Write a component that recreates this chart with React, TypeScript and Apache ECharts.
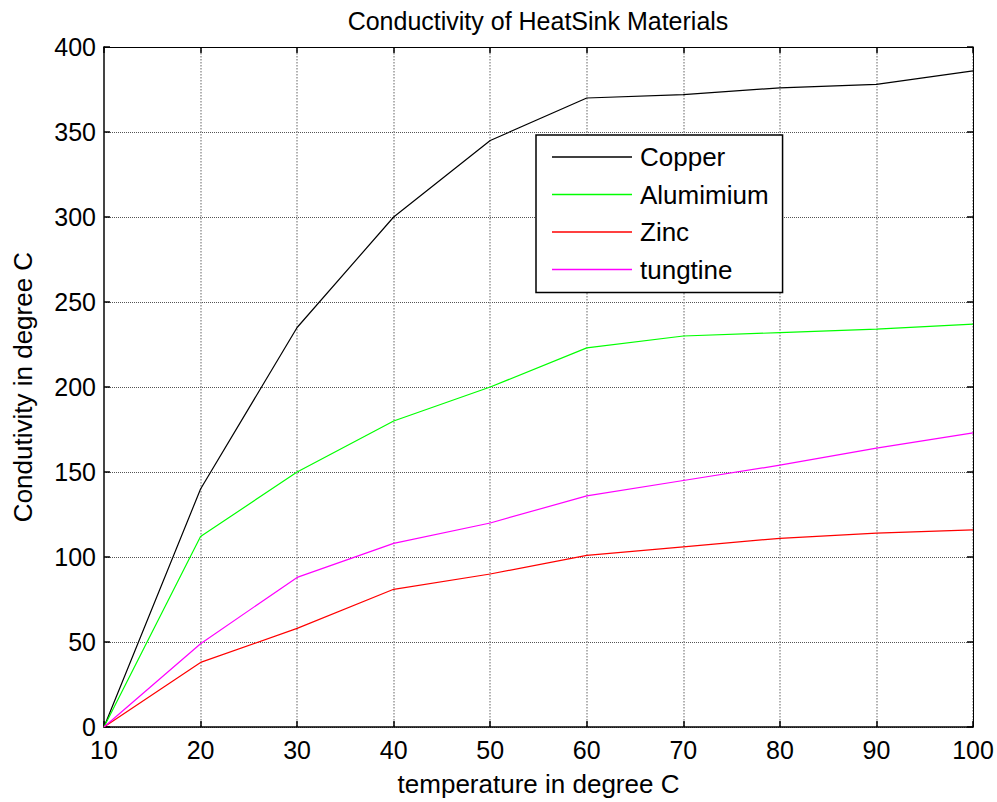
import React, { useEffect, useRef } from "react";
import * as echarts from "echarts";

const temperatures = [10, 20, 30, 40, 50, 60, 70, 80, 90, 100];
const copper = [0, 140, 235, 300, 345, 370, 372, 376, 378, 386];
const aluminium = [0, 112, 150, 180, 200, 223, 230, 232, 234, 237];
const zinc = [0, 38, 58, 81, 90, 101, 106, 111, 114, 116];
const tungtine = [0, 49, 88, 108, 120, 136, 145, 154, 164, 173];
const seriesNames = ["Copper", "Alumimium", "Zinc", "tungtine"];
const seriesColors = ["#000000", "#00ff00", "#ff0000", "#ff00ff"];
const seriesValues = [copper, aluminium, zinc, tungtine];

const FONT = "'Liberation Sans', Arial, sans-serif";

export default function App() {
  const ref = useRef<HTMLDivElement>(null);
  useEffect(() => {
    if (!ref.current) return;
    const chart = echarts.init(ref.current, null, { renderer: "svg" });
    const tickCommon = {
      show: true,
      inside: true,
      length: 6,
      lineStyle: { color: "#000", width: 1.5 },
    };
    chart.setOption({
      animation: false,
      backgroundColor: "#fff",
      textStyle: { fontFamily: FONT },
      title: {
        text: "Conductivity of HeatSink Materials",
        left: 533,
        textAlign: "center",
        top: 3,
        textStyle: { fontFamily: FONT, fontSize: 25, fontWeight: "normal", color: "#000" },
      },
      legend: {
        orient: "vertical",
        left: 536,
        top: 135,
        padding: [9, 14, 10, 16],
        icon: "rect",
        itemWidth: 80,
        itemHeight: 1.5,
        itemGap: 11.5,
        backgroundColor: "#fff",
        borderColor: "#000",
        borderWidth: 1.5,
        borderRadius: 0,
        textStyle: { fontFamily: FONT, fontSize: 26, lineHeight: 26, color: "#000", padding: [0, 0, 0, 3] },
        data: seriesNames,
      },
      grid: { left: 104, right: 24, top: 47, bottom: 71, show: false },
      xAxis: [
        {
          type: "value",
          min: 10,
          max: 100,
          interval: 10,
          name: "temperature in degree C",
          nameLocation: "middle",
          nameGap: 44,
          nameTextStyle: { fontFamily: FONT, fontSize: 26, color: "#000" },
          axisLine: { show: true, onZero: false, lineStyle: { color: "#000", width: 1.5 } },
          axisTick: tickCommon,
          axisLabel: { fontFamily: FONT, fontSize: 25, color: "#000", margin: 10 },
          splitLine: { show: true, lineStyle: { color: "#999", width: 1.5, type: "dotted" } },
        },
        {
          type: "value",
          position: "top",
          min: 10,
          max: 100,
          interval: 10,
          axisLine: { show: true, onZero: false, lineStyle: { color: "#000", width: 1 } },
          axisTick: tickCommon,
          axisLabel: { show: false },
          splitLine: { show: false },
        },
      ],
      yAxis: [
        {
          type: "value",
          min: 0,
          max: 400,
          interval: 50,
          name: "Condutivity in degree C",
          nameLocation: "middle",
          nameGap: 68,
          nameTextStyle: { fontFamily: FONT, fontSize: 26, color: "#000" },
          axisLine: { show: true, onZero: false, lineStyle: { color: "#444", width: 2 } },
          axisTick: tickCommon,
          axisLabel: { fontFamily: FONT, fontSize: 25, color: "#000", margin: 8 },
          splitLine: { show: true, lineStyle: { color: "#555", width: 1, type: "dotted" } },
        },
        {
          type: "value",
          position: "right",
          min: 0,
          max: 400,
          interval: 50,
          axisLine: { show: true, onZero: false, lineStyle: { color: "#000", width: 1 } },
          axisTick: tickCommon,
          axisLabel: { show: false },
          splitLine: { show: false },
        },
      ],
      series: seriesNames.map((name, i) => ({
        name,
        type: "line",
        symbol: "none",
        xAxisIndex: 0,
        yAxisIndex: 0,
        color: seriesColors[i],
        lineStyle: { color: seriesColors[i], width: 1.2 },
        data: temperatures.map((t, j) => [t, seriesValues[i][j]]),
      })),
    });
    return () => chart.dispose();
  }, []);
  return <div ref={ref} style={{ width: 997, height: 802, position: "absolute", left: 0, top: 0 }} />;
}
